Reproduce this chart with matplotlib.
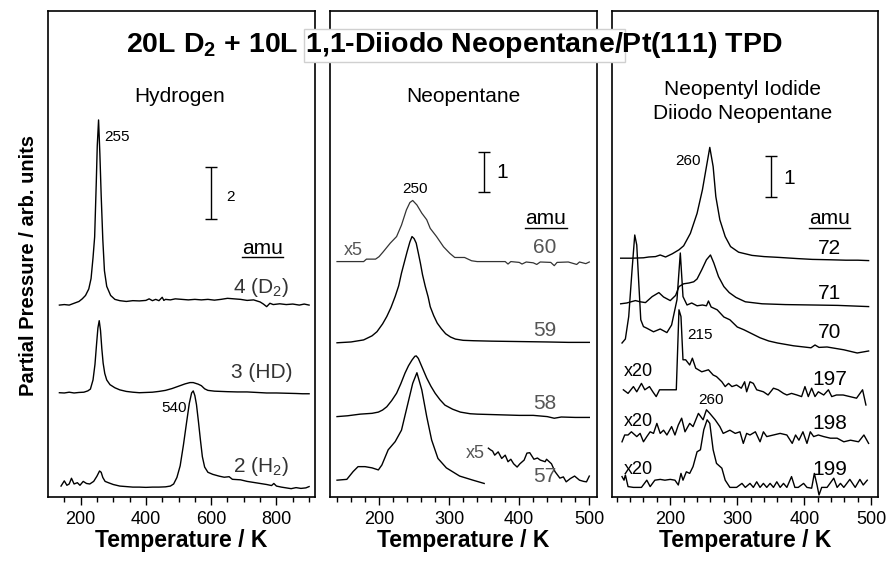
import numpy as np
import matplotlib
matplotlib.use('Agg')
import matplotlib.pyplot as plt
from matplotlib.patches import Rectangle
from matplotlib.ticker import MultipleLocator, FixedLocator

plt.rcParams['font.family'] = ['Liberation Sans', 'DejaVu Sans']
plt.rcParams['mathtext.fontset'] = 'custom'
plt.rcParams['mathtext.rm'] = 'Liberation Sans'
plt.rcParams['mathtext.bf'] = 'Liberation Sans:bold'

# ---- Hydrogen panel (1 unit = half of the "2" scale bar) ----
t_d2 = [135, 150, 165, 180, 195, 205, 215, 225, 232, 238, 243, 248, 251, 255, 259, 263, 268, 273, 280,
        292, 305, 320, 340, 360, 380, 400, 410, 420, 430, 440, 450, 455, 460, 475, 490, 510, 530, 550,
        570, 590, 610, 630, 650, 670, 690, 710, 730, 750, 760, 770, 780, 790, 810, 830, 850, 870, 885, 900]
d2 = [7.38, 7.40, 7.38, 7.45, 7.52, 7.62, 7.75, 8.0, 8.4, 9.2, 10.0, 12.1, 13.5, 14.5, 13.2, 11.6, 9.9, 8.7, 8.1,
      7.75, 7.6, 7.55, 7.52, 7.55, 7.54, 7.56, 7.62, 7.55, 7.6, 7.55, 7.68, 7.56, 7.6, 7.58, 7.62, 7.6, 7.58, 7.6,
      7.58, 7.6, 7.57, 7.6, 7.64, 7.62, 7.6, 7.56, 7.58, 7.5, 7.42, 7.32, 7.45, 7.4, 7.43, 7.4, 7.42, 7.38, 7.42, 7.38]

t_hd = [135, 150, 165, 180, 195, 210, 222, 230, 238, 244, 249, 253, 257, 261, 265, 269, 274, 280, 290, 305,
        320, 340, 360, 380, 400, 420, 440, 460, 480, 500, 520, 535, 545, 560, 570, 580, 590, 610, 630, 650,
        680, 710, 740, 770, 800, 830, 860, 880, 900]
hd = [4.01, 4.0, 4.03, 4.0, 4.02, 4.03, 4.08, 4.15, 4.5, 5.1, 5.9, 6.5, 6.78, 6.4, 5.7, 5.15, 4.75, 4.5, 4.32, 4.2,
      4.12, 4.06, 4.03, 4.01, 4.02, 4.03, 4.06, 4.1, 4.17, 4.26, 4.35, 4.4, 4.4, 4.34, 4.28, 4.16, 4.1, 4.07, 4.06,
      4.05, 4.04, 4.04, 4.02, 4.0, 4.0, 3.99, 3.98, 3.97, 3.97]

t_h2 = [140, 150, 158, 165, 172, 180, 190, 198, 208, 218, 228, 240, 250, 258, 263, 268, 275, 285, 300, 320,
        340, 360, 380, 400, 420, 440, 460, 475, 485, 495, 505, 515, 525, 533, 540, 545, 550, 555, 561, 567,
        573, 580, 590, 605, 625, 640, 655, 665, 690, 710, 730, 750, 770, 785, 792, 800, 815, 830, 845, 860,
        875, 890, 900]
h2 = [0.42, 0.62, 0.45, 0.5, 0.72, 0.5, 0.55, 0.45, 0.6, 0.52, 0.5, 0.6, 0.8, 1.0, 0.95, 0.75, 0.6, 0.55, 0.48, 0.42,
      0.4, 0.38, 0.38, 0.37, 0.38, 0.38, 0.39, 0.42, 0.5, 0.75, 1.2, 2.0, 2.9, 3.6, 4.0, 4.08, 3.9, 3.55, 2.9, 2.2,
      1.55, 1.15, 0.95, 0.87, 0.8, 0.76, 0.78, 0.68, 0.66, 0.6, 0.56, 0.52, 0.48, 0.44, 0.52, 0.42, 0.38, 0.35, 0.32,
      0.36, 0.33, 0.35, 0.4]

# ---- Neopentane panel ----
t_60 = [140, 160, 178, 182, 195, 200, 206, 216, 225, 232, 239, 244, 248, 254, 261, 268, 273, 282, 292, 301,
        308, 322, 332, 340, 360, 380, 384, 388, 400, 404, 410, 420, 425, 430, 445, 450, 454, 470, 482, 486, 495, 500]
n60 = [5.74, 5.74, 5.74, 5.8, 5.8, 5.86, 5.98, 6.19, 6.35, 6.63, 7.0, 7.18, 7.23, 7.12, 6.92, 6.76, 6.55, 6.35, 6.1,
       5.94, 5.84, 5.84, 5.76, 5.74, 5.74, 5.74, 5.68, 5.74, 5.72, 5.68, 5.73, 5.71, 5.67, 5.73, 5.72, 5.64, 5.72,
       5.73, 5.67, 5.73, 5.69, 5.73]

t_59 = [140, 160, 178, 190, 197, 205, 211, 217, 223, 228, 232, 236, 240, 244, 247, 250, 253, 256, 259, 262,
        266, 270, 273, 278, 283, 289, 295, 302, 309, 320, 335, 360, 400, 440, 470, 500]
n59 = [3.76, 3.78, 3.83, 3.93, 4.03, 4.22, 4.4, 4.62, 4.89, 5.15, 5.46, 5.72, 5.98, 6.22, 6.35, 6.3, 6.19, 5.95,
       5.7, 5.42, 5.13, 4.88, 4.64, 4.42, 4.24, 4.1, 3.98, 3.9, 3.85, 3.82, 3.81, 3.8, 3.79, 3.78, 3.77, 3.77]

t_58 = [140, 155, 173, 190, 199, 205, 211, 218, 225, 231, 237, 242, 247, 251, 253, 256, 259, 263, 268, 274,
        280, 287, 294, 305, 316, 330, 340, 360, 380, 400, 420, 440, 450, 460, 480, 500]
n58 = [1.96, 1.98, 2.02, 2.04, 2.07, 2.12, 2.2, 2.35, 2.53, 2.76, 3.02, 3.2, 3.34, 3.43, 3.44, 3.38, 3.26, 3.1,
       2.9, 2.7, 2.53, 2.37, 2.24, 2.14, 2.07, 2.03, 2.02, 2.01, 2.0, 1.99, 1.99, 1.96, 1.92, 1.95, 1.94, 1.94]

t_57 = [140, 154, 163, 170, 180, 190, 199, 204, 213, 223, 232, 240, 248, 254, 261, 268, 275, 284, 296, 315, 334, 350]
n57 = [0.41, 0.43, 0.62, 0.74, 0.74, 0.71, 0.66, 0.78, 1.15, 1.35, 1.63, 2.2, 2.77, 3.03, 2.61, 1.96, 1.39, 0.94,
       0.71, 0.51, 0.41, 0.33]
t_57x5 = [356, 359, 362, 365, 370, 375, 380, 384, 388, 392, 397, 401, 407, 411, 415, 421, 426, 430, 437, 439,
          446, 451, 458, 463, 467, 473, 479, 486, 492, 496, 500]
n57x5 = [1.19, 1.15, 1.12, 1.02, 1.10, 0.94, 1.02, 0.86, 0.92, 0.81, 0.73, 0.81, 0.90, 1.07, 1.08, 0.92, 0.95,
         0.90, 0.86, 0.92, 0.81, 0.62, 0.46, 0.49, 0.37, 0.45, 0.51, 0.41, 0.38, 0.37, 0.51]

# ---- Neopentyl iodide / diiodo neopentane panel ----
t_72 = [126, 143, 160, 168, 178, 185, 193, 203, 213, 220, 230, 240, 248, 254, 259, 264, 268, 274, 282, 290,
        302, 322, 340, 362, 390, 412, 440, 462, 480, 496]
m72 = [5.97, 5.97, 5.98, 6.0, 6.01, 6.05, 6.0, 6.08, 6.18, 6.28, 6.59, 7.09, 7.68, 8.26, 8.74, 8.26, 7.51, 6.93,
       6.51, 6.26, 6.12, 6.04, 6.01, 5.99, 5.96, 5.94, 5.93, 5.92, 5.92, 5.91]

t_71 = [126, 135, 148, 155, 163, 173, 183, 190, 200, 208, 213, 220, 228, 235, 240, 247, 254, 260, 265, 272,
        280, 288, 298, 312, 337, 372, 412, 450, 496]
m71 = [4.83, 4.85, 4.91, 4.88, 4.86, 5.01, 5.11, 5.0, 4.91, 5.04, 5.26, 5.33, 5.35, 5.38, 5.45, 5.68, 5.93, 6.05,
       5.85, 5.51, 5.26, 5.11, 4.99, 4.88, 4.83, 4.81, 4.8, 4.79, 4.76]

t_70 = [128, 133, 138, 143, 147, 150, 153, 156, 160, 165, 175, 185, 195, 202, 210, 215, 219, 225, 232, 240,
        248, 254, 257, 261, 270, 280, 289, 300, 310, 322, 334, 347, 360, 384, 410, 416, 422, 434, 459, 479, 496]
m70 = [3.85, 3.95, 4.51, 5.68, 6.55, 6.3, 5.35, 4.43, 4.26, 4.22, 4.13, 4.2, 4.11, 4.3, 4.93, 6.1, 5.01, 4.8,
       4.85, 4.78, 4.8, 4.78, 4.9, 4.75, 4.68, 4.5, 4.43, 4.25, 4.18, 4.08, 3.98, 3.9, 3.85, 3.78, 3.73, 3.8, 3.74,
       3.75, 3.68, 3.6, 3.65]

t_197 = [130, 137, 145, 150, 157, 162, 169, 174, 179, 184, 190, 200, 209, 213, 216, 219, 223, 229, 233, 238,
         247, 257, 264, 269, 277, 282, 287, 292, 299, 306, 311, 314, 319, 324, 329, 339, 346, 354, 361, 369,
         374, 381, 389, 396, 401, 406, 411, 416, 421, 429, 436, 441, 448, 458, 468, 478, 487, 492]
m197 = [2.68, 2.59, 2.76, 2.63, 2.84, 2.68, 2.76, 2.63, 2.51, 2.68, 2.68, 2.68, 2.68, 4.68, 4.51, 3.43, 3.43, 3.3,
        3.47, 3.22, 3.13, 3.18, 3.05, 3.01, 2.88, 2.76, 2.84, 2.76, 2.8, 2.72, 2.88, 2.63, 2.88, 2.84, 2.68, 2.63,
        2.55, 2.72, 2.68, 2.59, 2.55, 2.59, 2.55, 2.51, 2.76, 2.51, 2.72, 2.51, 2.63, 2.55, 2.68, 2.51, 2.55, 2.55,
        2.51, 2.47, 2.68, 2.3]

t_198 = [128, 132, 137, 142, 150, 155, 160, 165, 170, 175, 180, 185, 190, 195, 202, 207, 212, 217, 222, 229,
         234, 242, 249, 254, 259, 267, 274, 279, 284, 289, 297, 304, 309, 314, 319, 327, 334, 339, 344, 354,
         364, 374, 382, 387, 392, 398, 404, 409, 414, 421, 429, 439, 449, 459, 469, 481, 489, 496]
m198 = [1.38, 1.55, 1.55, 1.63, 1.51, 1.59, 1.38, 1.51, 1.63, 1.59, 1.84, 1.59, 1.67, 1.55, 1.76, 1.55, 1.8, 1.97,
        1.63, 1.84, 1.76, 2.09, 1.93, 2.18, 2.09, 1.93, 1.76, 1.59, 1.63, 1.67, 1.59, 1.63, 1.34, 1.59, 1.55, 1.63,
        1.38, 1.63, 1.51, 1.55, 1.59, 1.55, 1.34, 1.55, 1.42, 1.63, 1.34, 1.63, 1.51, 1.55, 1.51, 1.47, 1.47, 1.38,
        1.42, 1.38, 1.55, 1.34]

t_199 = [128, 131, 133, 137, 145, 157, 165, 170, 177, 185, 192, 200, 207, 212, 216, 219, 224, 229, 234, 240,
         245, 250, 255, 259, 264, 269, 277, 282, 289, 299, 307, 312, 319, 324, 329, 334, 339, 344, 349, 354,
         359, 364, 369, 374, 381, 386, 391, 399, 404, 411, 415, 419, 422, 426, 434, 444, 449, 454, 459, 468,
         476, 483, 488, 494]
m199 = [0.51, 0.42, 0.55, 0.26, 0.24, 0.24, 0.42, 0.26, 0.42, 0.44, 0.42, 0.44, 0.42, 0.3, 0.59, 0.42, 0.63, 0.59,
        0.76, 1.13, 1.18, 1.68, 1.93, 1.84, 1.18, 0.84, 0.72, 0.42, 0.24, 0.24, 0.34, 0.24, 0.34, 0.24, 0.38, 0.24,
        0.34, 0.24, 0.34, 0.24, 0.38, 0.24, 0.34, 0.24, 0.51, 0.24, 0.24, 0.34, 0.24, 0.22, 0.59, 0.3, 0.05, 0.24,
        0.24, 0.47, 0.24, 0.34, 0.24, 0.44, 0.24, 0.44, 0.3, 0.42]

fig = plt.figure(figsize=(8.9, 5.61), dpi=100)
ax1 = fig.add_axes([0.0539, 0.1141, 0.3, 0.8663])
ax2 = fig.add_axes([0.3708, 0.1141, 0.3, 0.8663])
ax3 = fig.add_axes([0.6876, 0.1141, 0.2989, 0.8663])

lw = 1.0
lab = dict(fontsize=15, ha='center', va='center')

# panel 1
ax1.plot(t_d2, d2, 'k-', lw=lw)
ax1.plot(t_hd, hd, 'k-', lw=lw)
ax1.plot(t_h2, h2, 'k-', lw=lw)
ax1.set_xlim(100, 918)
ax1.set_ylim(0, 18.69)
ax1.xaxis.set_major_locator(MultipleLocator(200))
ax1.xaxis.set_minor_locator(FixedLocator(np.arange(150, 901, 50)))
ax1.text(0.494, 0.825, 'Hydrogen', transform=ax1.transAxes, **lab)
ax1.text(271, 13.85, '255', fontsize=11, ha='left', va='center')
ax1.text(485, 3.42, '540', fontsize=11, ha='center', va='center')
ax1.errorbar([599], [11.69], yerr=[1.0], color='k', lw=1, capsize=4, capthick=1)
ax1.text(645, 11.54, '2', fontsize=11, ha='left', va='center')
ax1.text(757, 9.35, 'amu', fontsize=15, ha='center', va='baseline')
ax1.plot([694, 820], [9.22, 9.22], 'k-', lw=1)
ax1.text(754, 8.04, '4 (D$_2$)', color='#333', **lab)
ax1.text(754, 4.77, '3 (HD)', color='#333', **lab)
ax1.text(754, 1.19, '2 (H$_2$)', color='#333', **lab)

# panel 2
ax2.plot(t_60, n60, '-', color='#333', lw=0.9)
ax2.plot(t_59, n59, 'k-', lw=lw)
ax2.plot(t_58, n58, 'k-', lw=lw)
ax2.plot(t_57, n57, 'k-', lw=lw)
ax2.plot(t_57x5, n57x5, 'k-', lw=lw)
ax2.set_xlim(130, 511)
ax2.set_ylim(0, 11.85)
ax2.xaxis.set_major_locator(MultipleLocator(100))
ax2.xaxis.set_minor_locator(MultipleLocator(20))
ax2.text(0.498, 0.825, 'Neopentane', transform=ax2.transAxes, **lab)
ax2.text(251, 7.5, '250', fontsize=11, ha='center', va='center')
ax2.errorbar([350], [7.92], yerr=[0.48], color='k', lw=1, capsize=4, capthick=1)
ax2.text(368, 7.9, '1', fontsize=15, ha='left', va='center')
ax2.text(438, 6.65, 'amu', fontsize=15, ha='center', va='baseline')
ax2.plot([408, 468], [6.55, 6.55], 'k-', lw=1)
for txt, yy in [('60', 6.09), ('59', 4.07), ('58', 2.27), ('57', 0.5)]:
    ax2.text(437, yy, txt, color='#555', **lab)
ax2.text(163, 6.0, 'x5', fontsize=13, color='#555', ha='center', va='center')
ax2.text(338, 1.07, 'x5', fontsize=13, color='#555', ha='center', va='center')

# panel 3
ax3.plot(t_72, m72, 'k-', lw=lw)
ax3.plot(t_71, m71, 'k-', lw=lw)
ax3.plot(t_70, m70, 'k-', lw=lw)
ax3.plot(t_197, m197, 'k-', lw=lw)
ax3.plot(t_198, m198, 'k-', lw=lw)
ax3.plot(t_199, m199, 'k-', lw=lw)
ax3.set_xlim(113, 510)
ax3.set_ylim(0, 12.15)
ax3.xaxis.set_major_locator(MultipleLocator(100))
ax3.xaxis.set_minor_locator(MultipleLocator(20))
ax3.text(0.492, 0.814, 'Neopentyl Iodide\nDiiodo Neopentane', transform=ax3.transAxes,
         linespacing=1.3, **lab)
ax3.text(226, 8.41, '260', fontsize=11, ha='center', va='center')
ax3.errorbar([351], [8.02], yerr=[0.51], color='k', lw=1, capsize=4, capthick=1)
ax3.text(369, 7.97, '1', fontsize=15, ha='left', va='center')
ax3.text(437, 6.82, 'amu', fontsize=15, ha='center', va='baseline')
ax3.plot([407, 468], [6.72, 6.72], 'k-', lw=1)
for txt, yy in [('72', 6.22), ('71', 5.09), ('70', 4.1), ('197', 2.93), ('198', 1.83), ('199', 0.68)]:
    ax3.text(438, yy, txt, **lab)
for yy in [3.13, 1.88, 0.69]:
    ax3.text(152, yy, 'x20', fontsize=13, ha='center', va='center')
ax3.text(245, 4.05, '215', fontsize=11, ha='center', va='center')
ax3.text(261, 2.43, '260', fontsize=11, ha='center', va='center')

for ax in (ax1, ax2, ax3):
    ax.set_yticks([])
    for s in ax.spines.values():
        s.set_linewidth(1.2)
    ax.tick_params(axis='x', which='major', direction='out', length=6, width=1, labelsize=13, pad=4)
    ax.tick_params(axis='x', which='minor', direction='out', length=3.5, width=1)
    ax.set_xlabel('Temperature / K', fontsize=16.5, fontweight='bold', labelpad=1)

fig.text(0.032, 0.526, 'Partial Pressure / arb. units', rotation=90, fontsize=14.5,
         fontweight='bold', ha='center', va='center')

fig.patches.append(Rectangle((304 / 890, 1 - 62 / 561), 321 / 890, 33 / 561, transform=fig.transFigure,
                             facecolor='white', edgecolor='#d0d0d0', lw=1, zorder=2))
fig.text(0.51, 1 - 45 / 561, r'20L D$_\mathbf{2}$ + 10L 1,1-Diiodo Neopentane/Pt(111) TPD',
         fontsize=20.5, fontweight='bold', ha='center', va='center', zorder=3)

fig.savefig('out.png', dpi=100)
